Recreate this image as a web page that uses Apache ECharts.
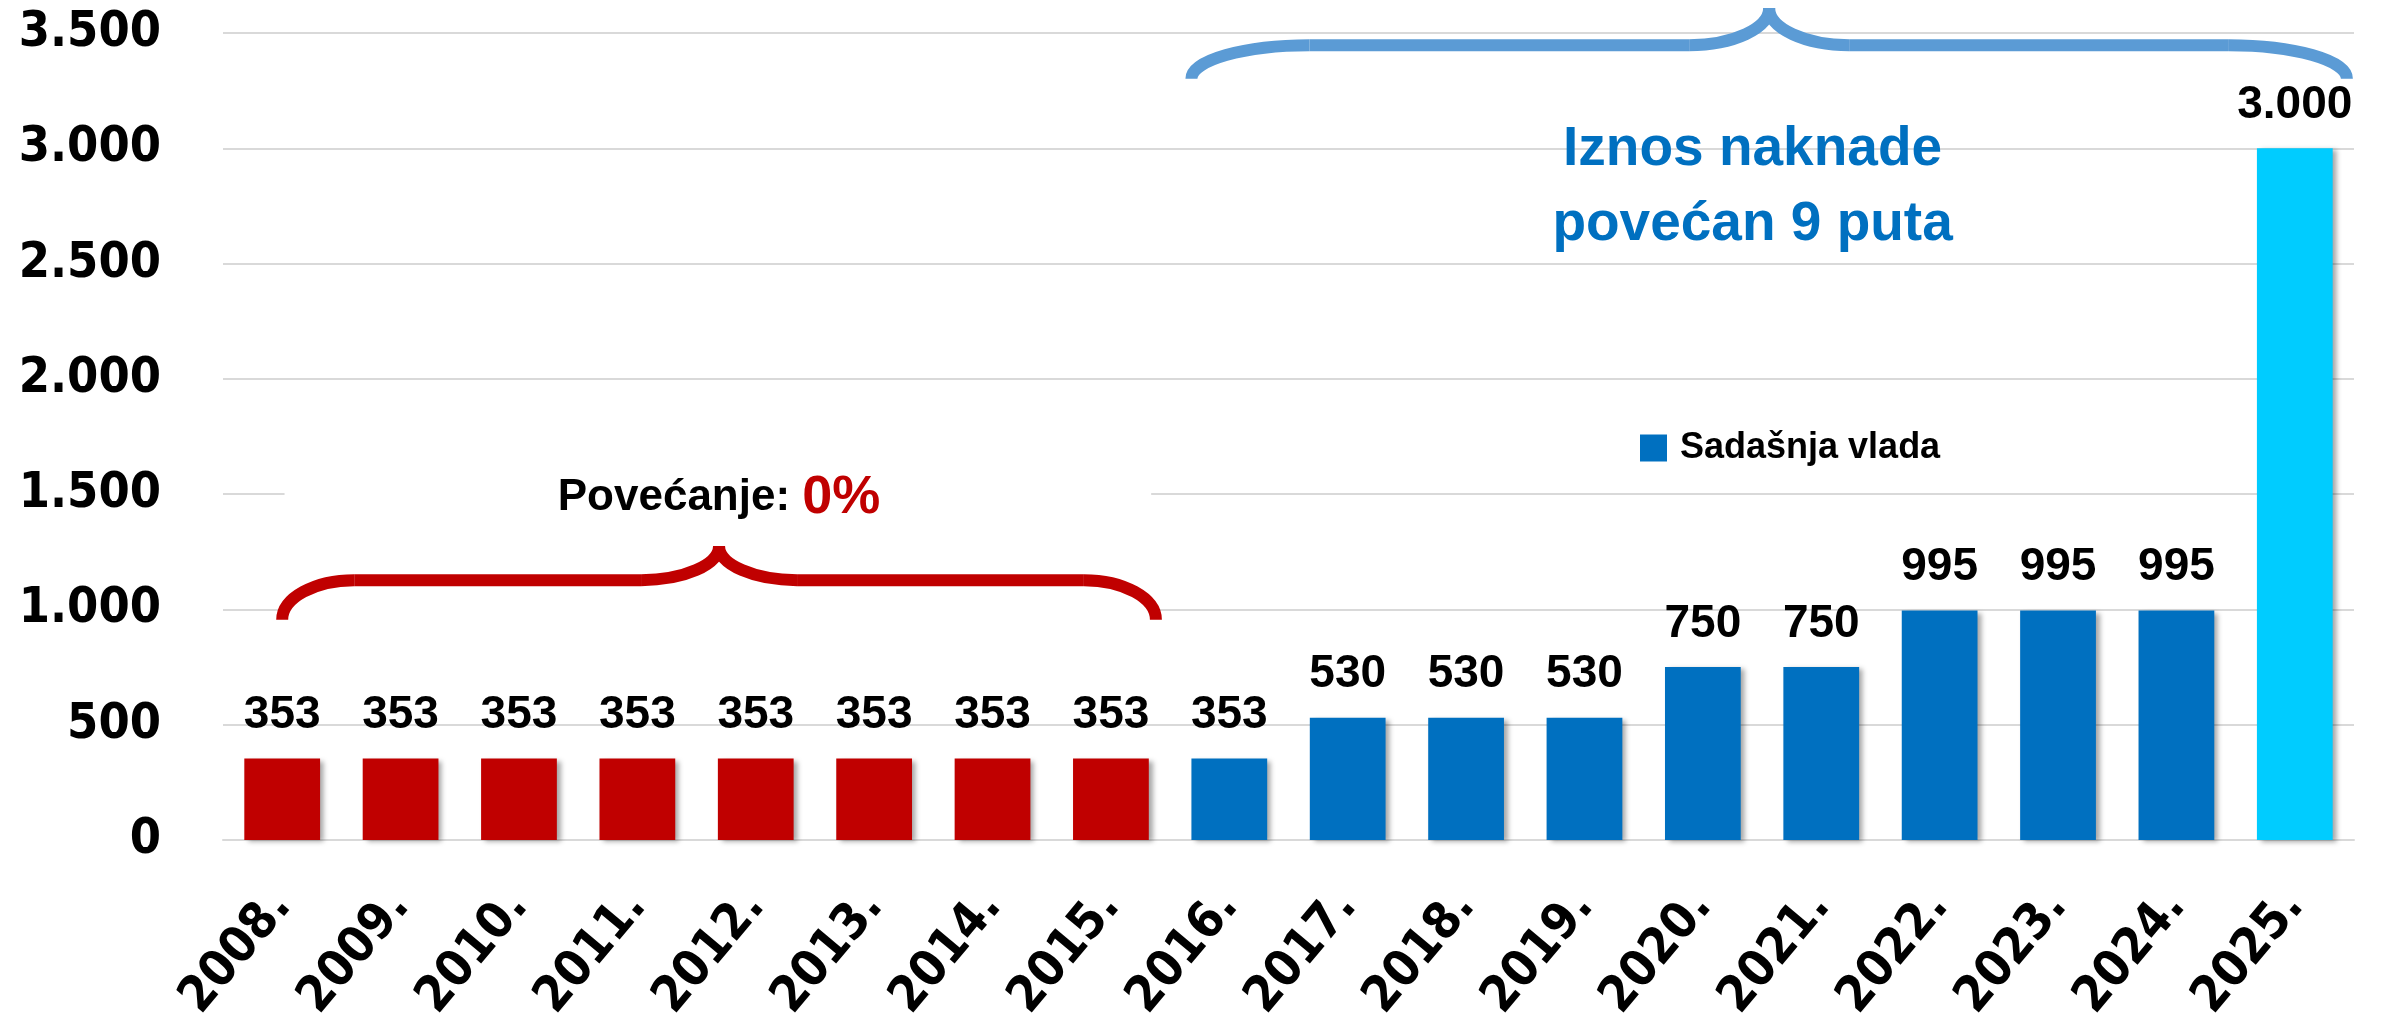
<!DOCTYPE html>
<html>
<head>
<meta charset="utf-8">
<script src="https://cdn.jsdelivr.net/npm/echarts@6/dist/echarts.min.js"></script>
<style>
html,body{margin:0;padding:0;background:#fff;}
#main{width:2381px;height:1026px;}
</style>
</head>
<body>
<div id="main"></div>
<script>
// podaci
var years=['2008.','2009.','2010.','2011.','2012.','2013.','2014.','2015.','2016.','2017.','2018.','2019.','2020.','2021.','2022.','2023.','2024.','2025.'];
var amounts=[353,353,353,353,353,353,353,353,353,530,530,530,750,750,995,995,995,3000];
var yMin=0,yMax=3500,yStep=500;
var legendName='Sadašnja vlada';
var lastOldYear='2015.';   // do ove godine crveno
var newLevelYear='2025.';  // svijetloplava
var noteRed=['Povećanje: ','0%'];
var noteBlue=['Iznos naknade','povećan 9 puta'];

var RED='#C00000',BLUE='#0070C0',CYAN='#00CCFF',BRACE_BLUE='#5B9BD5';
var SANS="'Liberation Sans',Arial,sans-serif";
var WIDE="'DejaVu Sans Condensed','DejaVu Sans',sans-serif";

function fmt(v){return String(v).replace(/\B(?=(\d{3})+(?!\d))/g,'.');}
function barColor(i){
  if(i<=years.indexOf(lastOldYear)) return RED;
  if(years[i]===newLevelYear) return CYAN;
  return BLUE;
}

var myChart=echarts.init(document.getElementById('main'));

var option={
  animation:false,
  grid:{left:223,right:27,top:33,bottom:186},
  legend:{
    left:1640,top:430,padding:0,
    icon:'rect',itemWidth:27,itemHeight:27,itemGap:10,
    data:[{name:legendName,itemStyle:{color:BLUE}}],
    textStyle:{fontFamily:SANS,fontWeight:'bold',fontSize:36,color:'#000',padding:[0,0,0,8]}
  },
  xAxis:{
    type:'category',data:years,
    axisLine:{show:true,lineStyle:{color:'#D9D9D9',width:2}},
    axisTick:{show:false},
    axisLabel:{rotate:50,margin:58,interval:0,fontFamily:WIDE,fontWeight:'bold',fontSize:50,color:'#000'}
  },
  yAxis:{
    type:'value',min:yMin,max:yMax,interval:yStep,
    axisLine:{show:false},axisTick:{show:false},
    splitLine:{lineStyle:{color:'#D9D9D9',width:2}},
    axisLabel:{margin:62,fontFamily:WIDE,fontWeight:'bold',fontSize:50,color:'#000',formatter:fmt}
  },
  series:[{
    name:legendName,type:'bar',barWidth:'64%',
    data:amounts,
    itemStyle:{
      color:function(p){return barColor(p.dataIndex);},
      shadowColor:'rgba(0,0,0,0.35)',shadowBlur:5,shadowOffsetX:4,shadowOffsetY:2
    },
    label:{show:true,position:'top',distance:20,fontFamily:SANS,fontWeight:'bold',fontSize:46,color:'#000',
      formatter:function(p){return fmt(p.value);}}
  }]
};
myChart.setOption(option);

// vitičaste zagrade i natpisi, položaj preko koordinata osi
// (kategorijska os zaokružuje indeks, pa se međupoložaji računaju iz razmaka kategorija)
var c0=myChart.convertToPixel({gridIndex:0},[0,0]);
var c1=myChart.convertToPixel({gridIndex:0},[1,0]);
function px(ix,v){
  var p=myChart.convertToPixel({gridIndex:0},[0,v]);
  return [c0[0]+ix*(c1[0]-c0[0]),p[1]];
}
function brace(x0,x1,yE,yH,yT,rxE,rxM,color){
  var k=0.55,xm=(x0+x1)/2,h=yE-yH,h2=yH-yT;
  var st={stroke:color,lineWidth:12,fill:null};
  return [
    {type:'bezierCurve',z:5,shape:{x1:x0,y1:yE,cpx1:x0,cpy1:yE-k*h,cpx2:x0+rxE-k*rxE,cpy2:yH,x2:x0+rxE,y2:yH},style:st},
    {type:'line',z:5,shape:{x1:x0+rxE,y1:yH,x2:xm-rxM,y2:yH},style:st},
    {type:'bezierCurve',z:5,shape:{x1:xm-rxM,y1:yH,cpx1:xm-rxM+k*rxM,cpy1:yH,cpx2:xm,cpy2:yT+k*h2,x2:xm,y2:yT},style:st},
    {type:'bezierCurve',z:5,shape:{x1:xm,y1:yT,cpx1:xm,cpy1:yT+k*h2,cpx2:xm+rxM-k*rxM,cpy2:yH,x2:xm+rxM,y2:yH},style:st},
    {type:'line',z:5,shape:{x1:xm+rxM,y1:yH,x2:x1-rxE,y2:yH},style:st},
    {type:'bezierCurve',z:5,shape:{x1:x1-rxE,y1:yH,cpx1:x1-rxE+k*rxE,cpy1:yH,cpx2:x1,cpy2:yE-k*h,x2:x1,y2:yE},style:st}
  ];
}

var rL=px(0,955),rR=px(7.38,955),rH=px(0,1127),rT=px(0,1275);
var bL=px(7.68,3302),bR=px(17.44,3302),bH=px(0,3447),bT=px(0,3608);
var boxA=px(0.02,1690),boxB=px(7.34,940);
var redTxt=px(3.69,1483),blueTxt=px(12.42,2830);

var gfx=[
  {type:'rect',z:1,shape:{x:boxA[0],y:boxA[1],width:boxB[0]-boxA[0],height:boxB[1]-boxA[1]},style:{fill:'#fff'}}
];
gfx=gfx.concat(brace(rL[0],rR[0],rL[1],rH[1],rT[1],72,78,RED));
gfx=gfx.concat(brace(bL[0],bR[0],bL[1],bH[1],bT[1],118,80,BRACE_BLUE));
gfx.push(
  {type:'text',z:6,x:redTxt[0],y:redTxt[1],
    style:{text:'{a|'+noteRed[0]+'}{b|'+noteRed[1]+'}',align:'center',verticalAlign:'middle',
      rich:{a:{fontFamily:SANS,fontWeight:'bold',fontSize:44,fill:'#000'},
            b:{fontFamily:SANS,fontWeight:'bold',fontSize:54,fill:RED}}}},
  {type:'text',z:6,x:blueTxt[0],y:blueTxt[1],
    style:{text:noteBlue.join('\n'),align:'center',verticalAlign:'middle',lineHeight:75,
      fontFamily:SANS,fontWeight:'bold',fontSize:55,fill:BLUE}}
);
myChart.setOption({graphic:gfx});
</script>
</body>
</html>
